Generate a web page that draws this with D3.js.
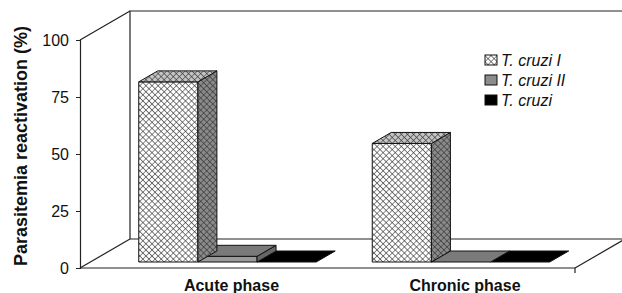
<!DOCTYPE html>
<html>
<head>
<meta charset="utf-8">
<script src="https://cdn.jsdelivr.net/npm/d3@7"></script>
<style>
	body { margin: 0; background: #fff; }
	svg { display: block; font-family: Arial, "Liberation Sans", sans-serif; }
</style>
</head>
<body>
<div id="chart"></div>
<script>
// values
const categories = ['Acute phase', 'Chronic phase'];
const seriesNames = ['T. cruzi I', 'T. cruzi II', 'T. cruzi'];
const tcruziI  = [79, 52];
const tcruziII = [2.5, 0];
const tcruzi   = [0, 0];
const yTicks   = [0, 25, 50, 75, 100];

const seriesValues = [tcruziI, tcruziII, tcruzi];

const width = 622, height = 293;

// 3d offsets: floor depth, bar front inset, bar depth
const floorD = {x: 50, y: -29},
	barIn    = {x: 10, y: -6},
	barD     = {x: 19, y: -11};

let svg = d3.select('#chart').append('svg')
	.attr('width', width)
	.attr('height', height);

let defs = svg.append('defs');

function hatch(id, bg){
	let p = defs.append('pattern')
		.attr('id', id)
		.attr('patternUnits', 'userSpaceOnUse')
		.attr('width', 4.3)
		.attr('height', 4.3)
		.attr('patternTransform', 'rotate(45)');
	p.append('rect').attr('width', 4.3).attr('height', 4.3).attr('fill', bg);
	p.append('path')
		.attr('d', 'M0,0V4.3M0,0H4.3')
		.attr('stroke', '#333')
		.attr('stroke-width', 1.1);
}
hatch('hatchFront', '#ffffff');
hatch('hatchTop', '#c4c4c4');
hatch('hatchSide', '#8a8a8a');

const styles = [
	{front: 'url(#hatchFront)', top: 'url(#hatchTop)', side: 'url(#hatchSide)', legend: 'url(#hatchFront)'},
	{front: '#9a9a9a', top: '#7a7a7a', side: '#666', legend: '#8c8c8c'},
	{front: '#000', top: '#000', side: '#000', legend: '#000'}
];

let y = d3.scaleLinear().domain([0, 100]).range([268, 40]);

let x0 = d3.scaleBand()
	.domain(categories)
	.range([80, 575])
	.paddingInner(0.24)
	.paddingOuter(0.18)
	.align(0.58);

let x1 = d3.scaleBand()
	.domain(seriesNames)
	.range([0, x0.bandwidth()]);

const left = 80, right = 575, y0 = y(0), yTop = y(100);

// walls and floor (drawn first, bars cover them)
let frame = svg.append('g')
	.attr('fill', 'none')
	.attr('stroke', '#222')
	.attr('stroke-width', 1.2);

frame.append('path').attr('d',
	'M' + (left + floorD.x) + ',' + (y0 + floorD.y) +
	'V' + (yTop + floorD.y) +
	'H' + width);
frame.append('path').attr('d',
	'M' + (left + floorD.x) + ',' + (y0 + floorD.y) + 'H' + width);
frame.append('path').attr('d',
	'M' + left + ',' + yTop + 'L' + (left + floorD.x) + ',' + (yTop + floorD.y));
frame.append('path').attr('d',
	'M' + left + ',' + y0 + 'L' + (left + floorD.x) + ',' + (y0 + floorD.y));
frame.append('path').attr('d',
	'M' + right + ',' + y0 + 'L' + (right + floorD.x) + ',' + (y0 + floorD.y));
frame.append('path').attr('d',
	'M' + right + ',' + y0 + 'v5');

// bars, drawn right to left so left bars cover the next one's back
let bars = [];
categories.forEach(function(c, ci){
	seriesNames.forEach(function(s, si){
		bars.push({cat: c, ser: s, si: si, value: seriesValues[si][ci]});
	});
});
bars.reverse();

let barG = svg.append('g')
	.attr('stroke', '#111')
	.attr('stroke-width', 1)
	.attr('stroke-linejoin', 'round');

function pts(a){ return a.map(function(p){ return p[0] + ',' + p[1]; }).join(' '); }

bars.forEach(function(d){
	let xf = x0(d.cat) + x1(d.ser) + barIn.x,
		w  = x1.bandwidth(),
		yb = y(0) + barIn.y,
		yt = y(d.value) + barIn.y,
		st = styles[d.si];
	let g = barG.append('g');
	if (d.value > 0) {
		g.append('rect')
			.attr('x', xf).attr('y', yt)
			.attr('width', w).attr('height', yb - yt)
			.attr('fill', st.front);
		g.append('polygon')
			.attr('points', pts([[xf + w, yt], [xf + w + barD.x, yt + barD.y], [xf + w + barD.x, yb + barD.y], [xf + w, yb]]))
			.attr('fill', st.side);
	}
	g.append('polygon')
		.attr('points', pts([[xf, yt], [xf + barD.x, yt + barD.y], [xf + w + barD.x, yt + barD.y], [xf + w, yt]]))
		.attr('fill', st.top);
});

// front floor edge
svg.append('path')
	.attr('d', 'M' + left + ',' + y0 + 'H' + right)
	.attr('stroke', '#222').attr('stroke-width', 1.2);

// y axis
let yAxis = svg.append('g')
	.attr('transform', 'translate(' + left + ',0)')
	.call(d3.axisLeft(y).tickValues(yTicks).tickSize(4).tickPadding(7));
yAxis.select('.domain').attr('stroke', '#222').attr('stroke-width', 1.2);
yAxis.selectAll('line').attr('stroke', '#222');
yAxis.selectAll('text')
	.attr('font-size', 16)
	.attr('font-family', 'Arial, "Liberation Sans", sans-serif')
	.attr('fill', '#111');

svg.append('text')
	.attr('transform', 'translate(27,' + 146 + ') rotate(-90)')
	.attr('text-anchor', 'middle')
	.attr('font-size', 18)
	.attr('font-weight', 'bold')
	.attr('fill', '#111')
	.text('Parasitemia reactivation (%)');

// category labels
svg.append('g').selectAll('text')
	.data(categories)
	.join('text')
	.attr('x', function(d){ return x0(d) + x0.bandwidth() / 2 + 14; })
	.attr('y', 291)
	.attr('text-anchor', 'middle')
	.attr('font-size', 16)
	.attr('font-weight', 'bold')
	.attr('fill', '#111')
	.text(function(d){ return d; });

// legend
let legend = svg.append('g')
	.attr('transform', 'translate(485,55)');

let item = legend.selectAll('g')
	.data(seriesNames)
	.join('g')
	.attr('transform', function(d, i){ return 'translate(0,' + (i * 20) + ')'; });

item.append('rect')
	.attr('width', 12).attr('height', 10)
	.attr('fill', function(d, i){ return styles[i].legend; })
	.attr('stroke', '#111').attr('stroke-width', 1);

item.append('text')
	.attr('x', 16).attr('y', 11)
	.attr('font-size', 16)
	.attr('font-style', 'italic')
	.attr('fill', '#111')
	.text(function(d){ return d; });
</script>
</body>
</html>
